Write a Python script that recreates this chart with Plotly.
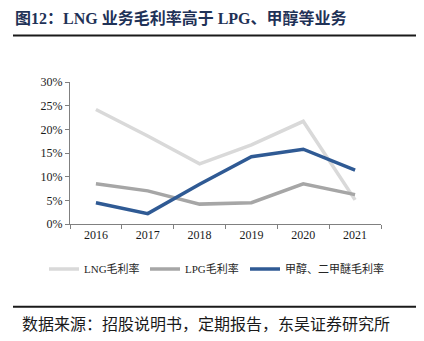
import plotly.graph_objects as go

years = ["2016", "2017", "2018", "2019", "2020", "2021"]
lng_margin = [0.242, 0.186, 0.127, 0.167, 0.217, 0.051]
lpg_margin = [0.085, 0.070, 0.042, 0.045, 0.085, 0.062]
methanol_margin = [0.045, 0.022, 0.084, 0.142, 0.158, 0.114]

series = [
    ("LNG毛利率", lng_margin, "#D9D9D9", "legend", 44),
    ("LPG毛利率", lpg_margin, "#A6A6A6", "legend2", 145),
    ("甲醇、二甲醚毛利率", methanol_margin, "#2F5A94", "legend3", 245),
]

serif = "Liberation Serif, Times New Roman, Noto Sans CJK SC, serif"
cjk = "Noto Sans CJK SC, Liberation Serif, serif"

# plot area in pixels: x 70..381, y 81.7..224
L, R, T, B = 70, 381, 81.7, 224
W, H = 424, 341

def px(x):
    return (x - L) / (R - L)

def py(y):
    return (B - y) / (B - T)

fig = go.Figure()
legends = {}
for name, vals, color, leg, lx in series:
    fig.add_trace(go.Scatter(
        x=years, y=vals, name=name, mode="lines", legend=leg,
        line=dict(color=color, width=3.5),
    ))
    legends[leg] = dict(
        orientation="h", x=px(lx), xanchor="left", y=py(269), yanchor="middle",
        font=dict(family=serif, size=11, color="#262626"),
        itemwidth=30, bgcolor="rgba(0,0,0,0)", borderwidth=0,
    )

fig.update_layout(
    width=W, height=H, autosize=False,
    margin=dict(l=L, r=W - R, t=T, b=H - B, pad=0, autoexpand=False),
    paper_bgcolor="white", plot_bgcolor="white",
    font=dict(family=serif, size=12, color="#262626"),
    showlegend=True,
    **legends,
    xaxis=dict(
        type="category", showgrid=False, showline=True, linecolor="#808080", linewidth=1,
        ticks="outside", ticklen=4, tickcolor="#808080", tickson="boundaries",
        tickfont=dict(family=serif, size=12, color="#1a1a1a"),
        range=[-0.5, 5.5],
    ),
    yaxis=dict(
        range=[0, 0.30], dtick=0.05, tickformat=".0%", showgrid=False,
        showline=True, linecolor="#808080", linewidth=1,
        ticks="outside", ticklen=4, tickcolor="#808080", zeroline=False,
        tickfont=dict(family=serif, size=12, color="#1a1a1a"),
    ),
    shapes=[
        dict(type="line", xref="paper", yref="paper", x0=px(13), x1=px(416),
             y0=py(35), y1=py(35), line=dict(color="#1a1a1a", width=2)),
        dict(type="line", xref="paper", yref="paper", x0=px(13), x1=px(416),
             y0=py(307), y1=py(307), line=dict(color="#1a1a1a", width=2)),
    ],
    annotations=[
        dict(text="<b>图12：LNG 业务毛利率高于 LPG、甲醇等业务</b>", xref="paper", yref="paper",
             x=px(13), y=py(18), xanchor="left", yanchor="middle", showarrow=False,
             font=dict(family=serif, size=16, color="#1F3257")),
        dict(text="数据来源：招股说明书，定期报告，东吴证券研究所", xref="paper", yref="paper",
             x=px(20), y=py(323), xanchor="left", yanchor="middle", showarrow=False,
             font=dict(family=cjk, size=16, color="#1a1a1a")),
    ],
)

fig.write_html("out.html")
